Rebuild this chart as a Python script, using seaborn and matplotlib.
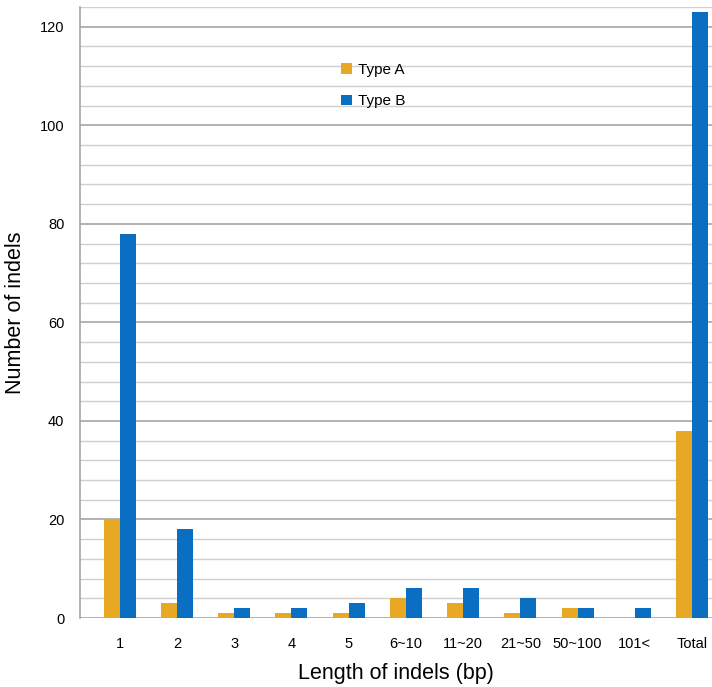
import matplotlib
matplotlib.use("Agg")
import matplotlib.pyplot as plt
import seaborn as sns
import pandas as pd
import numpy as np

categories = ["1", "2", "3", "4", "5", "6~10", "11~20", "21~50", "50~100", "101<", "Total"]
type_a = [20, 3, 1, 1, 1, 4, 3, 1, 2, 0, 38]
type_b = [78, 18, 2, 2, 3, 6, 6, 4, 2, 2, 123]
series_names = ["Type A", "Type B"]
colors = ["#E8A823", "#0A6FC2"]

df = pd.DataFrame({
    "cat": categories * 2,
    "val": type_a + type_b,
    "type": [series_names[0]] * len(categories) + [series_names[1]] * len(categories),
})

sns.set_style("white")
plt.rcParams["font.family"] = ["Liberation Sans", "DejaVu Sans"]
plt.rcParams["text.color"] = "black"
plt.rcParams["axes.labelcolor"] = "black"
plt.rcParams["xtick.color"] = "black"
plt.rcParams["ytick.color"] = "black"

fig = plt.figure(figsize=(7.12, 6.87), dpi=100)
ax = fig.add_axes([0.112, 0.1004, 0.888, 0.8894])

sns.barplot(data=df, x="cat", y="val", hue="type", order=categories,
            hue_order=series_names, palette=colors, width=0.56,
            saturation=1, ax=ax, edgecolor="none", linewidth=0, zorder=3)

ax.set_ylim(0, 124)
ax.set_xlim(-0.7, 10.35)
ax.set_yticks(np.arange(0, 121, 20))
ax.set_yticks(np.arange(0, 125, 4), minor=True)
ax.grid(axis="y", which="minor", color="#cfcfcf", linewidth=1.0, zorder=0)
ax.grid(axis="y", which="major", color="#a6a6a6", linewidth=1.2, zorder=0)
ax.set_axisbelow(True)

for s in ["top", "right", "bottom"]:
    ax.spines[s].set_visible(False)
ax.spines["left"].set_color("#a6a6a6")
ax.spines["left"].set_linewidth(1.2)

ax.tick_params(axis="y", which="major", length=5, color="#a6a6a6", width=1.2,
               labelsize=10.5, pad=6, labelcolor="black")
ax.tick_params(axis="y", which="minor", length=0)
ax.tick_params(axis="x", length=0, labelsize=10.5, pad=14, labelcolor="black")

ax.set_xlabel("Length of indels (bp)", fontsize=15.5, labelpad=8)
ax.set_ylabel("Number of indels", fontsize=15.5, labelpad=10)

handles, labels = ax.get_legend_handles_labels()
ax.legend(handles, labels, loc="upper left", bbox_to_anchor=(0.392, 0.931),
          frameon=False, fontsize=11, handlelength=0.7, handleheight=0.7,
          handletextpad=0.4, labelspacing=1.15)

fig.savefig("out.png", dpi=100)
